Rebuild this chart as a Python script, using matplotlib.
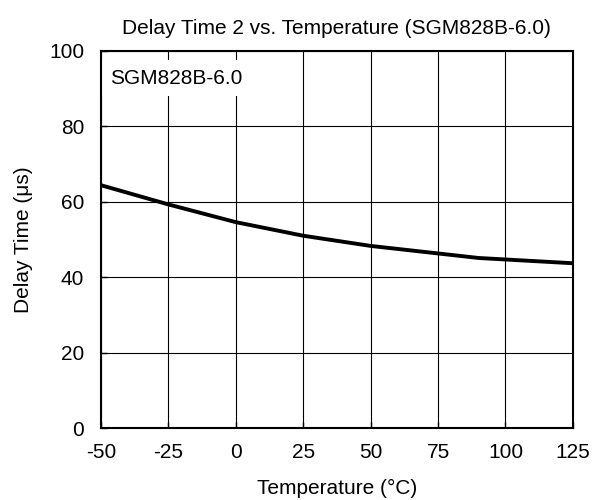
import matplotlib
matplotlib.use("Agg")
import matplotlib.pyplot as plt

plt.rcParams['font.family'] = ['Liberation Sans', 'DejaVu Sans']
plt.rcParams['axes.unicode_minus'] = False

# curve
temperature = [-50, -25, 0, 25, 50, 75, 90, 100, 125]
delay_time = [64.4, 59.3, 54.6, 51.0, 48.3, 46.3, 45.1, 44.7, 43.7]

x_ticks = [-50, -25, 0, 25, 50, 75, 100, 125]
y_ticks = [0, 20, 40, 60, 80, 100]

fig = plt.figure(figsize=(6.03, 5), dpi=100)
ax = fig.add_axes([0.1675, 0.144, 0.7825, 0.754])

ax.plot(temperature, delay_time, color='black', linewidth=2.8, solid_capstyle='butt', zorder=3)

ax.set_xlim(-50, 125)
ax.set_ylim(0, 100)
ax.set_xticks(x_ticks)
ax.set_yticks(y_ticks)
ax.grid(True, color='black', linewidth=0.8)
ax.tick_params(direction='in', length=4, width=1, labelsize=15)
ax.tick_params(axis='x', pad=11)
ax.tick_params(axis='y', pad=12)
for s in ax.spines.values():
    s.set_linewidth(1.5)
    s.set_zorder(5)

ax.set_title('Delay Time 2 vs. Temperature (SGM828B-6.0)', fontsize=15, pad=12)
ax.set_xlabel('Temperature (\u00b0C)', fontsize=15, labelpad=12)
ax.set_ylabel('Delay Time (\u03bcs)', fontsize=15, labelpad=12)

ax.text(-46.5, 92.8, 'SGM828B-6.0', fontsize=15, va='center', ha='left',
        bbox=dict(facecolor='white', edgecolor='none', pad=6), zorder=4)

fig.savefig('out.png', dpi=100)
